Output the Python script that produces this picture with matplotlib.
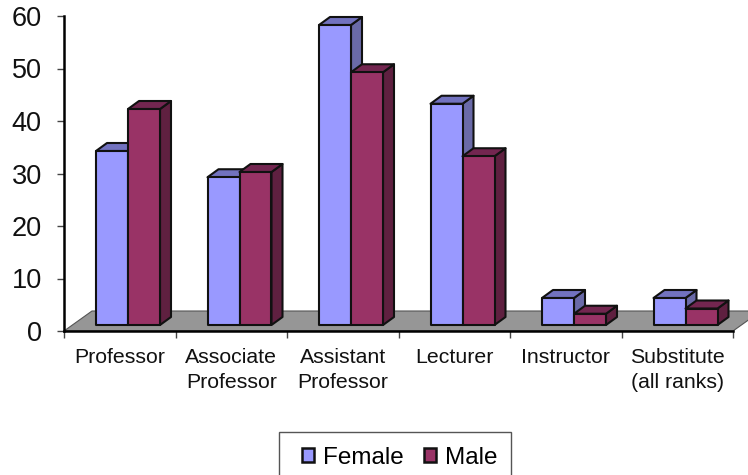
import matplotlib
matplotlib.use('Agg')
import matplotlib.pyplot as plt
from matplotlib.patches import Polygon, Patch, Rectangle

plt.rcParams['font.family'] = ['Liberation Sans', 'DejaVu Sans']

# Data
categories = ['Professor', 'Associate\nProfessor', 'Assistant\nProfessor',
              'Lecturer', 'Instructor', 'Substitute\n(all ranks)']
female = [34, 29, 58, 43, 6, 6]
male = [42, 30, 49, 33, 3, 4]
y_ticks = [0, 10, 20, 30, 40, 50, 60]

W, H = 748, 475
fig = plt.figure(figsize=(W / 100, H / 100), dpi=100)

# axes box in pixels: x 64-733, y 16-331
ax = fig.add_axes([64 / W, 1 - 331 / H, (733 - 64) / W, (331 - 16) / H])
ax.set_xlim(0, 6)
ax.set_ylim(0, 60)
ax.patch.set_alpha(0)

# pixel -> data sizes
px = 6 / (733 - 64)
py = 60 / (331 - 16)

female_cols = ('#9999FF', '#7272BF', '#6A6AA8')
male_cols = ('#993366', '#732650', '#5F2040')


def floor():
    dx, dy = 28 * px, 20 * py
    pts = [(0, 0), (dx, dy), (6 + dx, dy), (6, 0)]
    ax.add_patch(Polygon(pts, closed=True, fc='#969696', ec='#555555', lw=0.8,
                         clip_on=False, zorder=1))


def bar3d(x, value, cols):
    # front face, top and side of one box
    w = 32 * px
    base = 6 * py
    top = value + 1.5 * py
    dx, dy = 11 * px, 8 * py
    side = [(x + w, base), (x + w + dx, base + dy), (x + w + dx, top + dy), (x + w, top)]
    cap = [(x, top), (x + dx, top + dy), (x + w + dx, top + dy), (x + w, top)]
    front = [(x, base), (x + w, base), (x + w, top), (x, top)]
    for pts, col in zip([side, cap, front], [cols[2], cols[1], cols[0]]):
        ax.add_patch(Polygon(pts, closed=True, fc=col, ec='#111111', lw=1.5,
                             joinstyle='round', clip_on=False, zorder=3))


floor()
offset = 32 * px
for i in range(len(categories)):
    bar3d(i + offset, female[i], female_cols)
    bar3d(i + 2 * offset, male[i], male_cols)

# Axes
for s in ['top', 'right']:
    ax.spines[s].set_visible(False)
ax.spines['left'].set_linewidth(1.8)
ax.spines['bottom'].set_linewidth(1.8)
ax.spines['left'].set_zorder(5)
ax.spines['bottom'].set_zorder(5)

ax.set_yticks(y_ticks)
ax.tick_params(axis='y', length=5, width=1, color='#444444', labelsize=19.5, pad=11,
               labelcolor='#111111')
ax.set_xticks(range(7))
ax.set_xticklabels([''] * 7)
ax.tick_params(axis='x', length=5, width=1, color='#444444')

for i, lab in enumerate(categories):
    ax.text(i + 0.5, -17 * py, lab, ha='center', va='top',
            fontsize=15.3, linespacing=1.38, color='#111111')

# Legend box runs off the bottom of the picture
fig.add_artist(Rectangle((279 / W, -0.02), 232 / W, 1 - 432 / H + 0.02, transform=fig.transFigure,
                         fc='white', ec='#555555', lw=1.0))
handles = [Patch(fc=female_cols[0], ec='#111111', lw=1.8, label='Female'),
           Patch(fc=male_cols[0], ec='#111111', lw=1.8, label='Male')]
leg = fig.legend(handles=handles, loc='center left', ncol=2,
                 bbox_to_anchor=(302 / W, 1 - 458 / H),
                 fontsize=17.5, frameon=False, handlelength=0.5, handleheight=0.5,
                 handletextpad=0.35, borderpad=0, borderaxespad=0, columnspacing=0.85)

fig.savefig('out.png', dpi=100)
